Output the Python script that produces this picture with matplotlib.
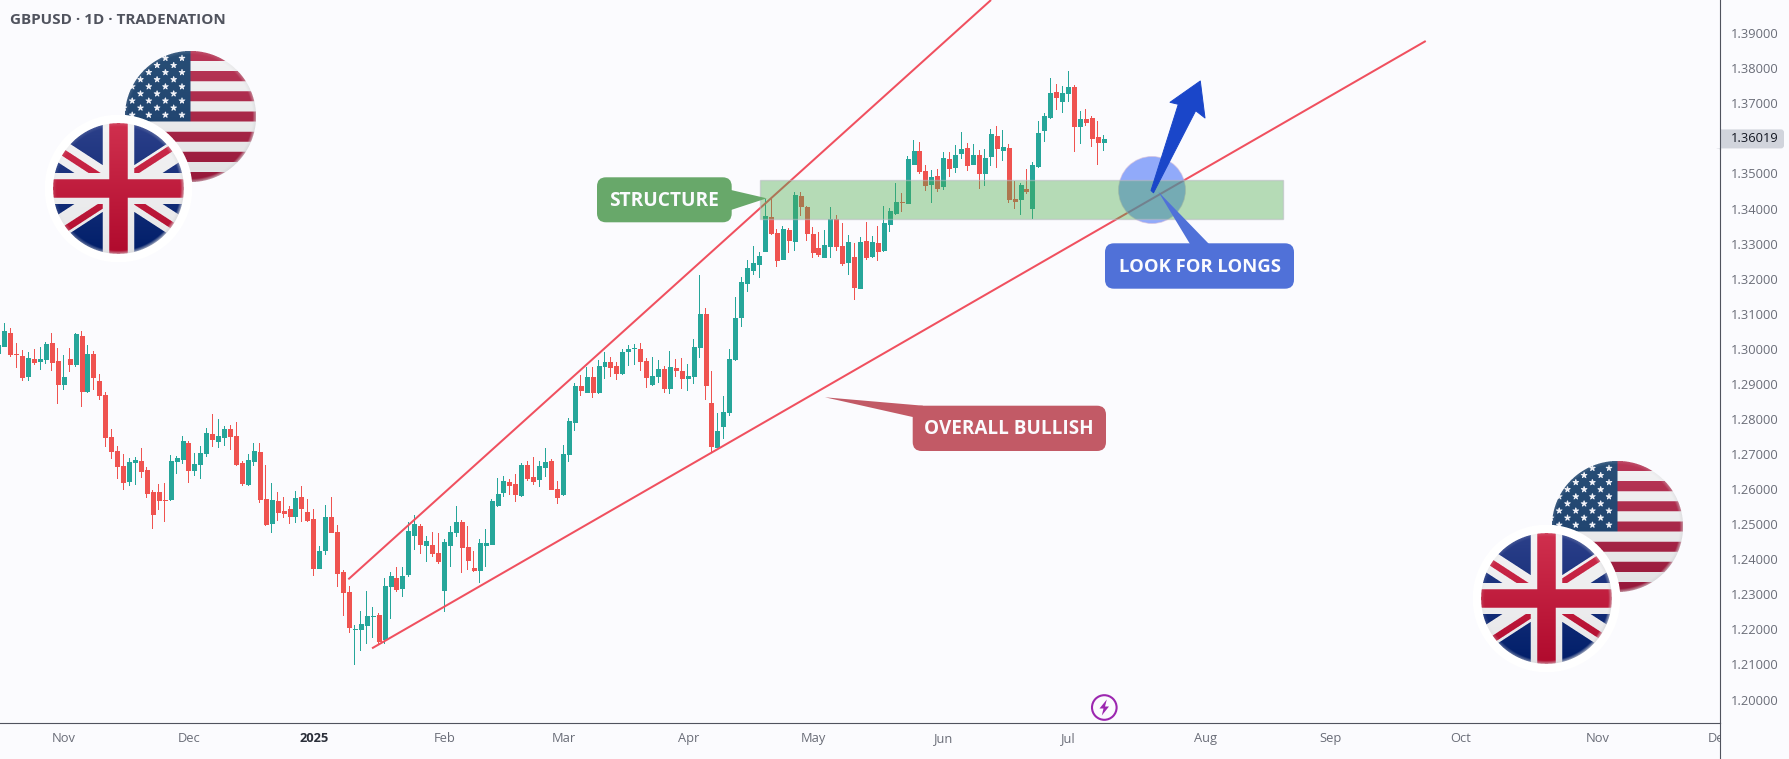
import numpy as np
import matplotlib
matplotlib.use("Agg")
import matplotlib.pyplot as plt
from matplotlib.patches import Rectangle, Circle, Polygon, FancyBboxPatch
from matplotlib.transforms import Affine2D, ScaledTranslation

# Daily GBPUSD candles, prices in units of 0.0001
opens = [12989,13008,13048,12989,12983,12923,12974,12966,12971,13020,12969,12900,12974,12957,13040,12880,12989,12912,12872,12752,
12712,12669,12624,12678,12683,12658,12595,12595,12572,12572,12681,12686,12735,12655,12672,12703,12760,12738,12749,12775,
12755,12678,12615,12681,12709,12575,12504,12569,12541,12547,12524,12581,12538,12518,12375,12427,12524,12481,12367,12310,
12201,12201,12213,12239,12244,12173,12324,12350,12318,12358,12470,12498,12441,12444,12421,12313,12441,12478,12509,12438,
12378,12370,12441,12444,12555,12592,12624,12618,12584,12672,12638,12629,12663,12683,12604,12586,12700,12792,12897,12877,
12923,12877,12951,12966,12954,12931,12994,13003,13003,12969,12900,12923,12946,12889,12949,12940,12917,12923,13006,13103,
12849,12721,12780,12820,12971,13091,13188,13225,13242,13279,13379,13334,13257,13342,13308,13439,13408,13331,13291,13262,
13294,13373,13297,13248,13265,13174,13311,13265,13305,13282,13356,13388,13422,13416,13527,13567,13510,13470,13496,13465,
13545,13519,13559,13576,13527,13556,13502,13550,13610,13567,13576,13431,13428,13459,13402,13522,13624,13662,13736,13707,
13730,13750,13636,13659,13662,13607,13590]
highs = [13022,13074,13060,13017,12997,12991,13000,13006,13020,13046,13003,12983,13003,13046,13051,13011,12994,12929,12877,12772,
12723,12701,12689,12692,12718,12664,12598,12615,12618,12698,12695,12752,12738,12703,12723,12775,12815,12800,12780,12783,
12792,12681,12701,12732,12732,12669,12618,12592,12578,12552,12595,12609,12572,12544,12438,12555,12578,12498,12370,12324,
12213,12253,12310,12264,12247,12347,12364,12378,12378,12506,12527,12501,12467,12478,12475,12458,12495,12552,12512,12495,
12424,12458,12487,12572,12632,12638,12629,12643,12675,12681,12692,12681,12718,12686,12624,12726,12803,12903,12926,12949,
12949,12969,12991,12977,12963,13000,13011,13014,13017,12974,12977,12969,12951,12994,12971,12974,12957,13028,13211,13117,
12937,12817,12866,13000,13148,13205,13254,13294,13277,13428,13428,13342,13351,13345,13448,13448,13408,13348,13334,13339,
13405,13382,13359,13325,13302,13319,13362,13322,13351,13408,13402,13473,13445,13550,13596,13590,13525,13510,13513,13562,
13562,13582,13619,13587,13585,13567,13570,13627,13636,13624,13585,13479,13473,13513,13533,13650,13673,13773,13756,13750,
13793,13753,13679,13684,13664,13650,13610]
lows = [12981,13008,12980,12949,12912,12912,12957,12943,12960,12940,12846,12886,12937,12951,12837,12877,12886,12857,12723,12689,
12632,12601,12612,12615,12635,12578,12490,12544,12510,12569,12646,12675,12621,12641,12632,12695,12723,12720,12726,12715,
12669,12612,12612,12669,12564,12498,12478,12512,12521,12504,12507,12510,12510,12355,12375,12415,12478,12324,12241,12193,
12102,12142,12162,12179,12162,12162,12233,12310,12296,12353,12430,12418,12395,12410,12390,12253,12381,12467,12364,12373,
12367,12336,12381,12444,12552,12581,12586,12566,12581,12626,12615,12609,12638,12601,12561,12584,12681,12769,12869,12877,
12863,12874,12917,12923,12914,12929,12954,12957,12940,12891,12897,12906,12877,12874,12923,12889,12883,12903,12977,12857,
12709,12721,12746,12812,12969,13066,13165,13214,13205,13279,13328,13237,13257,13277,13282,13382,13311,13262,13265,13262,
13262,13282,13239,13214,13142,13174,13257,13262,13254,13279,13336,13385,13393,13416,13527,13502,13453,13419,13450,13456,
13493,13505,13545,13510,13527,13459,13468,13525,13519,13539,13419,13402,13385,13445,13373,13519,13593,13659,13684,13676,
13707,13565,13587,13639,13579,13528,13567]
closes = [13014,13054,12986,12986,12920,12977,12963,12974,13017,12963,12900,12923,12957,13046,12880,12989,12920,12869,12749,12709,
12666,12621,12681,12686,12652,12589,12529,12569,12569,12683,12692,12741,12655,12675,12706,12763,12743,12755,12775,12752,
12672,12618,12686,12712,12572,12501,12572,12535,12532,12524,12578,12547,12512,12375,12427,12524,12478,12361,12307,12207,
12204,12219,12241,12241,12167,12327,12355,12316,12355,12484,12504,12444,12455,12418,12395,12452,12481,12509,12435,12398,
12370,12450,12450,12569,12589,12626,12612,12586,12672,12632,12624,12669,12681,12601,12578,12703,12797,12897,12883,12923,
12877,12954,12966,12949,12931,12994,13003,13006,12966,12920,12926,12946,12889,12951,12940,12917,12926,13008,13103,12897,
12723,12769,12823,12974,13091,13194,13234,13248,13268,13382,13331,13254,13345,13311,13442,13408,13331,13277,13271,13299,
13373,13294,13245,13308,13177,13308,13262,13308,13279,13362,13396,13422,13419,13545,13567,13507,13468,13493,13459,13547,
13516,13556,13573,13525,13556,13502,13547,13616,13573,13579,13428,13422,13470,13450,13527,13619,13667,13733,13719,13733,
13750,13636,13659,13647,13602,13590,13601.9]

# Axis labelling
price_ticks = [1.39, 1.38, 1.37, 1.35, 1.34, 1.33, 1.32, 1.31, 1.30, 1.29, 1.28, 1.27, 1.26, 1.25,
               1.24, 1.23, 1.22, 1.21, 1.20]
month_positions = [11, 32, 53, 75, 95, 116, 137, 159, 180, 203, 224, 246, 269, 289.4]
month_labels = ['Nov', 'Dec', '2025', 'Feb', 'Mar', 'Apr', 'May', 'Jun', 'Jul', 'Aug', 'Sep', 'Oct', 'Nov', 'Dec']
last_price = 1.36019

# Drawn trendlines and the structure zone, as (bar, price)
upper_trend_bars, upper_trend_prices = [58.81, 166.95], [1.23461, 1.39980]
lower_trend_bars, lower_trend_prices = [62.8, 240.1], [1.21494, 1.38811]
zone_bars, zone_prices = [128.1, 216.0], [1.33749, 1.34839]

BG = '#fbfbfe'
UP = '#26a69a'
DOWN = '#ef5350'
AXIS = '#50535e'
FONT = ['Open Sans', 'DejaVu Sans']
W, H = 1789, 759

fig = plt.figure(figsize=(W / 100, H / 100), dpi=100, facecolor=BG)
ax = fig.add_axes([0, (H - 723.4) / H, 1719.5 / W, 723.4 / H], facecolor=BG)
px = Affine2D().scale(1, -1).translate(0, H)   # screen-pixel coordinates, origin top left

o, h, l, c = [np.array(a) / 1e4 for a in (opens, highs, lows, closes)]
idx = np.arange(len(o))
colors = np.where(c >= o, UP, DOWN)
# half-pixel shift keeps the aliased wicks centred on the bodies
wick_shift = ScaledTranslation(-0.9 / 100, 0.9 / 100, fig.dpi_scale_trans)
ax.vlines(idx, l, h, colors=colors, linewidth=0.72, antialiased=False, zorder=2,
          transform=ax.transData + wick_shift)
ax.bar(idx, np.maximum(np.abs(c - o), 0.0003), bottom=np.minimum(o, c), width=0.84, color=colors,
       linewidth=0, zorder=3)

ax.set_xlim(0.2, 289.53)
ax.set_ylim(1.19353, 1.39980)

ax.yaxis.tick_right()
ax.set_yticks(price_ticks)
ax.set_yticklabels([f'{p:.5f}' for p in price_ticks], family=FONT, fontsize=9.3, color='#6a6d78')
ax.set_xticks(month_positions)
ax.set_xticklabels(month_labels, family=FONT, fontsize=9.3, color='#6a6d78')
ax.tick_params(axis='both', length=0)
ax.tick_params(axis='y', pad=8)
ax.tick_params(axis='x', pad=6.5)
nudge = ScaledTranslation(0, 1.2 / 100, fig.dpi_scale_trans)
for lab in ax.get_yticklabels():
    lab.set_transform(lab.get_transform() + nudge)
for lab in ax.get_xticklabels():
    if lab.get_text() == '2025':
        lab.set_fontweight('bold')
        lab.set_color('#2a2e39')
clip_rect = Rectangle((0, 723), 1719.5, 36, transform=px)
ax.get_xticklabels()[-1].set_clip_path(clip_rect)

for s in ('top', 'left'):
    ax.spines[s].set_visible(False)
for s in ('right', 'bottom'):
    ax.spines[s].set_color(AXIS)
    ax.spines[s].set_linewidth(0.8)
ax.plot([1719.5, 1719.5], [723, 759], color=AXIS, lw=0.8, transform=px, clip_on=False)

# Trendlines and overlays
ax.plot(upper_trend_bars, upper_trend_prices, color='#f0505f', lw=1.45, zorder=4, solid_capstyle='butt')
ax.plot(lower_trend_bars, lower_trend_prices, color='#f0505f', lw=1.45, zorder=4, solid_capstyle='butt')
ax.add_patch(Circle((1152, 190), 33.5, transform=px, facecolor=(0.29, 0.455, 0.973, 0.6),
                    edgecolor=(0.85, 0.75, 0.85, 0.6), lw=0.7, zorder=5))
ax.add_patch(Rectangle((zone_bars[0], zone_prices[0]), zone_bars[1] - zone_bars[0], zone_prices[1] - zone_prices[0],
                       facecolor=(0.298, 0.678, 0.298, 0.4), edgecolor=(0.72, 0.72, 0.76, 0.55), lw=1.0, zorder=6))


def callout(x0, y0, x1, y1, pointer, color, text, cx, cy, size):
    ax.add_patch(Polygon(pointer, closed=True, transform=px, facecolor=color, edgecolor='none', zorder=7,
                         clip_on=False))
    ax.add_patch(FancyBboxPatch((x0, y0), x1 - x0, y1 - y0, boxstyle='round,pad=0,rounding_size=9', transform=px,
                                facecolor=color, edgecolor='none', zorder=7, mutation_aspect=1))
    ax.text(cx, cy, text, transform=px, color='#fbfbfe', ha='center', va='center_baseline', family=FONT,
            fontweight='bold', fontsize=size, zorder=9)


callout(597, 177.3, 731.7, 222.3, [(731, 190), (766.7, 198.3), (731, 210)], '#68a86a', 'STRUCTURE', 664, 199, 13.8)
callout(912.7, 405.7, 1106, 451, [(825, 397.3), (923, 405.7), (912.7, 417)], '#c25a66', 'OVERALL BULLISH', 1009, 427, 13.6)
callout(1105, 243.3, 1294, 288.7, [(1158.3, 191.7), (1190, 244), (1209, 244)], '#5071d8', 'LOOK FOR LONGS', 1200, 265, 13.3)

# Blue projection arrow
ax.add_patch(Polygon([(1151, 190.5), (1178.3, 104.3), (1170, 102.3), (1200.3, 81), (1205, 118), (1195.7, 110.7),
                      (1153.5, 192.8)], closed=True, transform=px, facecolor='#1a46c9', edgecolor='#1a46c9',
                     lw=0.7, joinstyle='round', zorder=8))

# Session icon
ax.add_patch(Circle((1104.3, 707.5), 12.3, transform=px, facecolor=BG, edgecolor='#9c27b0', lw=1.5, zorder=8))
ax.add_patch(Polygon([(1106.8, 699.5), (1099.5, 708.5), (1103.5, 708.5), (1101.8, 715.5), (1109, 706.5), (1105, 706.5)],
                     closed=True, transform=px, facecolor='#9c27b0', edgecolor='none', zorder=9))

# Last price tag
tag_y = H - ax.transData.transform((0, last_price))[1]
ax.add_patch(FancyBboxPatch((1715, tag_y - 9.5), 69, 19, boxstyle='round,pad=0,rounding_size=3', transform=px,
                            facecolor='#d1d4dc', edgecolor='none', clip_on=False, zorder=3))
ax.add_patch(Rectangle((1719.5, tag_y - 9.5), -6, 19, transform=px, facecolor=BG, edgecolor='none', clip_on=False,
                       zorder=3.5))
ax.plot([1719.5, 1719.5], [tag_y - 10, tag_y + 10], color=AXIS, lw=0.8, transform=px, clip_on=False, zorder=4)
ax.text(1731, tag_y - 0.5, f'{last_price:.5f}', transform=px, color='#131722', ha='left', va='center', family=FONT,
        fontsize=9.3, clip_on=False, zorder=5)

# Chart title
ax.text(10, 20.5, 'GBPUSD · 1D · TRADENATION', transform=px, color=AXIS, ha='left', va='center', family=FONT,
        fontweight='bold', fontsize=11, zorder=9)


# Round flag badges, rasterised with a soft top-to-bottom shade and a bevelled rim
def grid(radius, ss=4):
    n = int(2 * radius) + 4
    coords = (np.arange(n * ss) + 0.5) / ss - n / 2
    return np.meshgrid(coords, coords), n, ss


def finish(rgb, mask, n, ss):
    rgba = np.dstack([rgb, mask[..., None].astype(float)])
    rgba[..., :3] *= rgba[..., 3:]
    out = rgba.reshape(n, ss, n, ss, 4).mean(axis=(1, 3))
    alpha = out[..., 3:]
    out[..., :3] = np.where(alpha > 0, out[..., :3] / np.maximum(alpha, 1e-6), 1)
    return out


def bevel(rgb, dx, dy, R):
    r = np.hypot(dx, dy)
    rim = np.clip((r - (R - 3.5)) / 3.5, 0, 1)[..., None]
    side = np.clip(0.45 + 0.55 * (dx + dy) / (r * 1.414 + 1e-6), 0.2, 1)[..., None]
    return rgb * (1 - 0.75 * rim * side) + np.array([0.84, 0.84, 0.85]) * 0.75 * rim * side


def mix(top, bot, t):
    return np.array(top)[None, None, :] / 255 * (1 - t) + np.array(bot)[None, None, :] / 255 * t


def us_flag(R=65.6):
    (dx, dy), n, ss = grid(R)
    t = np.clip((dy + R) / (2 * R), 0, 1)[..., None]
    stripe = np.floor((dy + R) / (2 * R) * 13).astype(int)
    red = mix((186, 56, 88), (150, 24, 58), t)
    white = mix((243, 243, 244), (226, 226, 228), t)
    rgb = np.where((stripe % 2 == 0)[..., None], red, white)
    canton = (dx < 0) & (stripe < 7)
    rgb = np.where(canton[..., None], mix((40, 78, 118), (28, 62, 108), t), rgb)
    stars = np.zeros_like(dx, dtype=bool)
    for row in range(9):
        col_start = 0 if row % 2 == 0 else 1
        for col in range(col_start, 8, 2):
            sx = -8.5 - 8.3 * col
            sy = -58.3 + 7.1 * row
            ddx, ddy = dx - sx, dy - sy
            a = np.mod(np.arctan2(ddx, -ddy), 2 * np.pi / 5)
            a = np.abs(a - np.pi / 5)
            a = np.pi / 5 - a
            rr = 1.35 + (3.5 - 1.35) * (1 - a / (np.pi / 5))
            stars |= np.hypot(ddx, ddy) <= rr
    rgb = np.where((stars & canton)[..., None], np.array([0.95, 0.95, 0.97]), rgb)
    rgb = bevel(rgb, dx, dy, R)
    return finish(rgb, np.hypot(dx, dy) <= R, n, ss)


def uk_flag(R=65.4, ring=73.8):
    (dx, dy), n, ss = grid(ring)
    t = np.clip((dy + R) / (2 * R), 0, 1)[..., None]
    blue = mix((44, 64, 138), (0, 30, 105), t)
    white = mix((244, 244, 245), (230, 230, 232), t)
    red = mix((208, 48, 78), (176, 10, 45), t)
    rgb = blue.copy()
    k = np.sqrt(1 + 0.65 ** 2)
    d1 = dy - 0.65 * dx
    d2 = dy + 0.65 * dx
    diag_white = (np.abs(d1) / k < 11) | (np.abs(d2) / k < 11)
    rgb = np.where(diag_white[..., None], white, rgb)
    red_a = ((dx < 0) & (dy < 0) & (np.abs(d1) / k < 3.3)) | ((dx > 0) & (dy > 0) & (np.abs(d1 - 2) / k < 3.3))
    red_b = ((dx > 0) & (dy < 0) & (np.abs(d2 + 6) / k < 3.3)) | ((dx < 0) & (dy > 0) & (np.abs(d2 - 6) / k < 3.3))
    rgb = np.where((red_a | red_b)[..., None], red, rgb)
    rgb = np.where(((np.abs(dx) < 15.8) | (np.abs(dy) < 15.5))[..., None], white, rgb)
    rgb = np.where(((np.abs(dx) < 9.2) | (np.abs(dy) < 9.3))[..., None], red, rgb)
    rgb = bevel(rgb, dx, dy, R)
    r = np.hypot(dx, dy)
    rgb = np.where((r > R)[..., None], np.array([1.0, 1.0, 1.0]), rgb)
    return finish(rgb, r <= ring, n, ss)


us_img, uk_img = us_flag(), uk_flag()
for (ux, uy), (bx, by) in (((190.5, 116.8), (118.8, 188.8)), ((1617.8, 526.7), (1546.7, 598.7))):
    for img, cx, cy, z in ((us_img, ux, uy, 20), (uk_img, bx, by, 21)):
        size = img.shape[0]
        fig.figimage(img, xo=int(round(cx - size / 2)), yo=int(round(H - cy - size / 2)), origin='upper', zorder=z)

fig.savefig('out.png', dpi=100, facecolor=BG)
